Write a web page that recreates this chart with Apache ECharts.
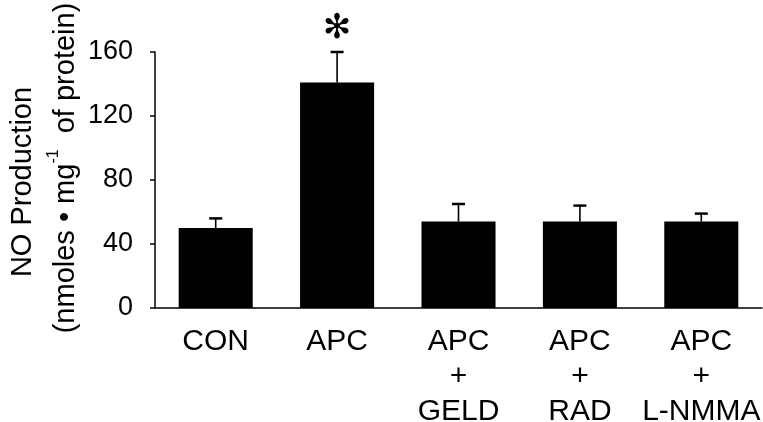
<!DOCTYPE html>
<html>
<head>
<meta charset="utf-8">
<script src="https://cdn.jsdelivr.net/npm/echarts@6/dist/echarts.min.js"></script>
<style>
  html, body { margin: 0; padding: 0; background: #fff; }
  #chart { width: 763px; height: 422px; }
</style>
</head>
<body>
<div id="chart"></div>
<script>
// groups along the x axis (lines split with \n)
var groups = ["CON", "APC", "APC\n+\nGELD", "APC\n+\nRAD", "APC\n+\nL-NMMA"];
// mean NO production, nmoles per mg protein
var means = [50, 141, 54, 54, 54];
// upper end of error bar
var errTops = [56, 160, 65, 64, 59];
// significance marks above bars
var sigMarks = ["", "✻", "", "", ""];
var yTicks = [0, 40, 80, 120, 160];

var font = "'Liberation Sans', Arial, sans-serif";
var chart = echarts.init(document.getElementById("chart"));

var errData = [];
for (var i = 0; i < groups.length; i++) {
  errData.push([i, means[i], errTops[i], sigMarks[i]]);
}

chart.setOption({
  animation: false,
  grid: { left: 155, right: 1, top: 52, bottom: 114, outerBoundsMode: "none", containLabel: false },
  xAxis: {
    type: "category",
    data: groups,
    axisLine: { lineStyle: { color: "#000", width: 1.5 } },
    axisTick: { show: false },
    axisLabel: {
      color: "#000",
      fontFamily: font,
      fontSize: 30,
      lineHeight: 35,
      margin: 16,
      interval: 0
    }
  },
  yAxis: {
    type: "value",
    min: yTicks[0],
    max: yTicks[yTicks.length - 1],
    interval: 40,
    splitLine: { show: false },
    axisLine: { show: true, lineStyle: { color: "#000", width: 1.5 } },
    axisTick: { show: true, length: 5, lineStyle: { color: "#000", width: 1.5 } },
    axisLabel: { color: "#000", fontFamily: font, fontSize: 27, margin: 22 }
  },
  graphic: [
    {
      type: "text",
      x: 23, y: 182,
      rotation: Math.PI / 2,
      style: {
        text: "NO Production",
        font: "29px " + font,
        fill: "#000",
        align: "center",
        verticalAlign: "middle"
      }
    },
    {
      type: "text",
      x: 63, y: 168,
      rotation: Math.PI / 2,
      style: {
        text: "{a|(nmoles • mg}{s|-1}{a|  of protein)}",
        fill: "#000",
        align: "center",
        verticalAlign: "middle",
        rich: {
          a: { fontFamily: font, fontSize: 29, color: "#000", verticalAlign: "bottom", lineHeight: 34 },
          s: { fontFamily: font, fontSize: 16, color: "#000", verticalAlign: "top", lineHeight: 34 }
        }
      }
    }
  ],
  series: [
    {
      type: "bar",
      data: means,
      barWidth: "61%",
      itemStyle: { color: "#000" }
    },
    {
      type: "custom",
      data: errData,
      z: 5,
      renderItem: function (params, api) {
        var base = api.coord([api.value(0), api.value(1)]);
        var top = api.coord([api.value(0), api.value(2)]);
        var cap = 6.5;
        var children = [
          { type: "line", shape: { x1: base[0], y1: base[1], x2: top[0], y2: top[1] },
            style: { stroke: "#000", lineWidth: 1.6 } },
          { type: "line", shape: { x1: top[0] - cap, y1: top[1], x2: top[0] + cap, y2: top[1] },
            style: { stroke: "#000", lineWidth: 2.5 } }
        ];
        var mark = errData[params.dataIndex][3];
        if (mark) {
          children.push({
            type: "text",
            x: top[0], y: top[1] - 23,
            style: { text: mark, font: "34px 'DejaVu Sans'", fill: "#000",
                     align: "center", verticalAlign: "middle" }
          });
        }
        return { type: "group", children: children };
      }
    }
  ]
});
</script>
</body>
</html>
